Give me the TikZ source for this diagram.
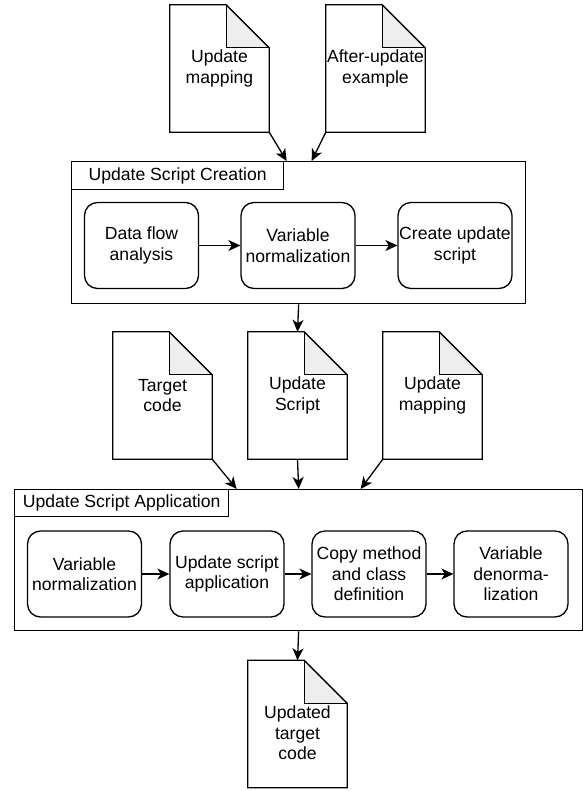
\documentclass[tikz,border=0pt]{standalone}
\usepackage{fontspec}
\setmainfont{Liberation Sans}
\usetikzlibrary{arrows.meta}
\definecolor{foldgray}{HTML}{EEEEEE}
\newcommand\mydocshape[1]{%
  \fill[foldgray] ([xshift=-43pt]#1.north east) -- ([xshift=-43pt,yshift=-43pt]#1.north east) -- ([yshift=-43pt]#1.north east) -- cycle;
  \draw[ln] (#1.north west) -- ([xshift=-43pt]#1.north east) -- ([yshift=-43pt]#1.north east) -- (#1.south east) -- (#1.south west) -- cycle;
  \draw[ln] ([xshift=-43pt]#1.north east) -- ([xshift=-43pt,yshift=-43pt]#1.north east) -- ([yshift=-43pt]#1.north east);
}
\begin{document}
\begin{tikzpicture}[x=1pt,y=-1pt,
  txt/.style={font=\fontsize{17.6}{20.5}\selectfont},
  ln/.style={line width=1.3pt, line join=miter},
  stepbox/.style={txt, draw, ln, rounded corners=13pt, minimum width=114pt, minimum height=86pt, inner sep=0pt, align=center},
  cont/.style={draw, ln, anchor=north west, inner sep=0pt},
  ttl/.style={txt, draw, ln, anchor=north west, inner sep=0pt, minimum height=28pt, align=center},
  docn/.style={txt, minimum width=99pt, minimum height=127pt, inner sep=0pt, align=center},
  arr/.style={ln, -{Stealth[length=12pt,width=11pt,inset=3.5pt]}}
]
\useasboundingbox (0,0) rectangle (584,791);

% top documents
\node[docn] (um1) at (219.5,68.5) {Update\\mapping};
\node[docn] (aue) at (375.5,68.5) {After-update\\example};
\mydocshape{um1}
\mydocshape{aue}

% Update Script Creation container
\node[cont, minimum width=454pt, minimum height=142pt] (usc) at (71,161) {};
\node[ttl, minimum width=212pt] (usct) at (71,161) {Update Script Creation};
\node[stepbox] (dfa) at (141.5,245.5) {Data flow\\analysis};
\node[stepbox] (vn1) at (298,245.5) {Variable\\normalization};
\node[stepbox] (cus) at (455,245.5) {Create update\\script};
\draw[arr] (dfa) -- (vn1);
\draw[arr] (vn1) -- (cus);

\draw[arr] (um1.south east) -- ([xshift=-12pt]usc.north);
\draw[arr] (aue.south west) -- ([xshift=13pt]usc.north);

% middle documents
\node[docn] (tc) at (162.5,395.5) {Target\\code};
\node[docn] (us) at (297.5,395.5) {Update\\Script};
\node[docn] (um2) at (432.5,395.5) {Update\\mapping};
\mydocshape{tc}
\mydocshape{us}
\mydocshape{um2}

\draw[arr] (usc.south) -- (us.north);

% Update Script Application container
\node[cont, minimum width=568pt, minimum height=141pt] (usa) at (14,489) {};
\node[ttl, minimum width=214pt, minimum height=27pt] (usat) at (14,489) {Update Script Application};
\node[stepbox] (vn2) at (84.5,574) {Variable\\normalization};
\node[stepbox] (usap) at (227,574) {Update script\\application};
\node[stepbox] (cmc) at (369,574) {Copy method\\and class\\definition};
\node[stepbox] (vdn) at (511,574) {Variable\\denorma-\\lization};
\draw[arr] (vn2) -- (usap);
\draw[arr] (usap) -- (cmc);
\draw[arr] (cmc) -- (vdn);

\draw[arr] (tc.south east) -- ([xshift=-62pt]usa.north);
\draw[arr] (us.south) -- (usa.north);
\draw[arr] (um2.south west) -- ([xshift=62pt]usa.north);

% output document
\node[docn, label={[txt, align=center, yshift=-9pt]center:{Updated\\target\\code}}] (utc) at (297.5,724) {};
\mydocshape{utc}
\draw[arr] (usa.south) -- (utc.north);
\end{tikzpicture}
\end{document}
